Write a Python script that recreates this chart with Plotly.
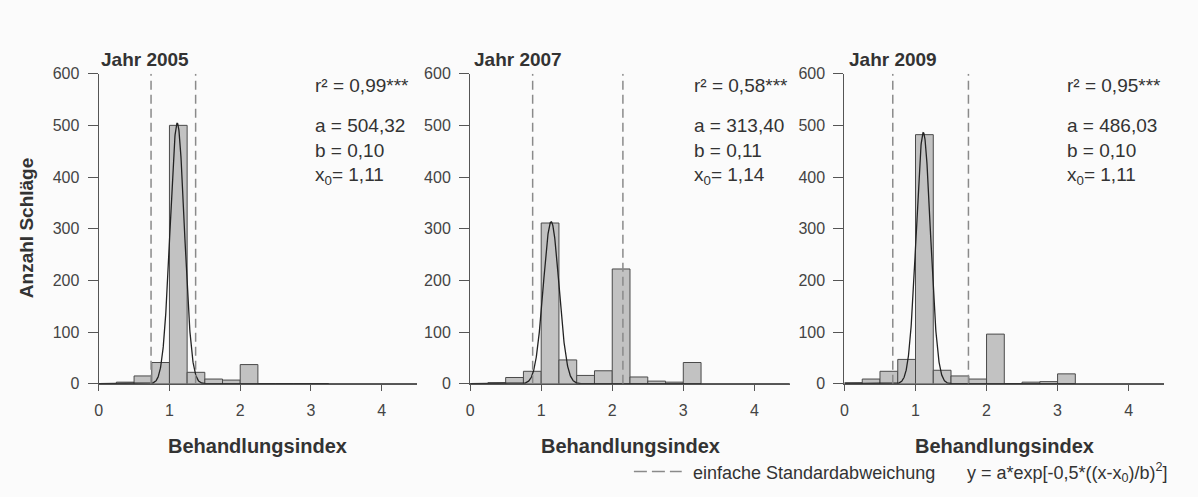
import numpy as np
import plotly.graph_objects as go

# Histogram bins (left edges, width 0.25) of the treatment index
bin_left = [0.0, 0.25, 0.5, 0.75, 1.0, 1.25, 1.5, 1.75, 2.0, 2.25, 2.5, 2.75, 3.0]
bin_width = 0.25

years = ["Jahr 2005", "Jahr 2007", "Jahr 2009"]
counts_2005 = [0, 3, 15, 41, 500, 22, 9, 7, 37, 0, 0, 0, 0]
counts_2007 = [0, 2, 12, 24, 311, 46, 16, 25, 222, 13, 5, 3, 41]
counts_2009 = [2, 9, 24, 47, 482, 26, 15, 9, 96, 0, 3, 4, 19]
counts = [counts_2005, counts_2007, counts_2009]

# Gaussian fit parameters y = a*exp(-0.5*((x-x0)/b)^2)
fit_a = [504.32, 313.40, 486.03]
fit_b = [0.10, 0.11, 0.10]
fit_x0 = [1.11, 1.14, 1.11]
fit_r2 = ["0,99", "0,58", "0,95"]

# one standard deviation limits (dashed lines)
sd_low = [0.74, 0.88, 0.68]
sd_high = [1.37, 2.15, 1.745]

x_ticks = [0, 1, 2, 3, 4]
y_ticks = [0, 100, 200, 300, 400, 500, 600]

W, H = 1198, 497
FONT = "Liberation Sans, Arial, Helvetica, sans-serif"
TXT = "#333333"
AX = "#555555"

x_domains = [(95, 414.5), (467.7, 788.5), (843.3, 1164.0)]
y_dom = [(497 - 389) / H, (497 - 68) / H]


def fmt(v):
    return f"{v:.2f}".replace(".", ",")


def py(pix):
    """paper y fraction for a pixel row measured from the top"""
    return (H - pix) / H


fig = go.Figure()
xgrid = np.linspace(0, 4.5, 1801)

annotations = []
shapes = []

for i in range(3):
    sfx = "" if i == 0 else str(i + 1)
    xa, ya = "x" + sfx, "y" + sfx
    centers = [l + bin_width / 2 for l in bin_left]
    fig.add_trace(go.Bar(
        x=centers, y=counts[i], width=[bin_width] * len(centers),
        marker=dict(color="#c2c2c2", line=dict(color="#4a4a4a", width=1)),
        xaxis=xa, yaxis=ya, showlegend=False, hoverinfo="x+y",
    ))
    yfit = fit_a[i] * np.exp(-0.5 * ((xgrid - fit_x0[i]) / fit_b[i]) ** 2)
    fig.add_trace(go.Scatter(
        x=xgrid, y=yfit, mode="lines", line=dict(color="#222222", width=1.3),
        xaxis=xa, yaxis=ya, showlegend=False, hoverinfo="skip",
    ))
    for xv in (sd_low[i], sd_high[i]):
        shapes.append(dict(type="line", xref=xa, yref=ya, x0=xv, x1=xv, y0=0, y1=600,
                           line=dict(color="#8a8a8a", width=1.5, dash="9px,5px")))

    d0, d1 = x_domains[i]
    axis_common = dict(showgrid=False, zeroline=False, showline=True, linecolor=AX,
                       linewidth=1.3, ticks="outside", tickcolor=AX, tickwidth=1.3,
                       tickfont=dict(family=FONT, size=16, color="#444444"))
    fig.update_layout(**{
        "xaxis" + sfx: dict(domain=[d0 / W, d1 / W], range=[0, 4.5], tickvals=x_ticks,
                            ticklen=6, ticklabelstandoff=6, anchor=ya, fixedrange=True,
                            **axis_common),
        "yaxis" + sfx: dict(domain=y_dom, range=[0, 600], tickvals=y_ticks,
                            ticklen=10, ticklabelstandoff=5, anchor=xa, fixedrange=True,
                            **axis_common),
    })

    # panel title above the plot area
    x_title = [0.0, 0.02, 0.03][i]
    annotations.append(dict(xref=xa, yref="paper", x=x_title, y=py(53), xanchor="left",
                            yanchor="middle", text="<b>" + years[i] + "</b>", showarrow=False,
                            font=dict(family=FONT, size=19, color=TXT)))
    # fit statistics
    x_stat = [3.03, 3.12, 3.11][i]
    stat_lines = [(578, "r² = " + fit_r2[i] + "***"),
                  (500, "a = " + fmt(fit_a[i])),
                  (451, "b = " + fmt(fit_b[i])),
                  (402, "x<sub>0</sub>= " + fmt(fit_x0[i]))]
    for yv, t in stat_lines:
        annotations.append(dict(xref=xa, yref=ya, x=x_stat, y=yv, xanchor="left", yanchor="middle",
                                text=t, showarrow=False,
                                font=dict(family=FONT, size=19, color=TXT)))
    # x axis title
    annotations.append(dict(xref=xa + " domain", yref="paper", x=0.5, y=py(453),
                            xanchor="center", yanchor="middle",
                            text="<b>Behandlungsindex</b>", showarrow=False,
                            font=dict(family=FONT, size=20, color=TXT)))

# y axis title
annotations.append(dict(xref="paper", yref="paper", x=22 / W, y=py(228),
                        xanchor="center", yanchor="middle", textangle=-90,
                        text="<b>Anzahl Schläge</b>", showarrow=False,
                        font=dict(family=FONT, size=19, color=TXT)))

# legend row
shapes.append(dict(type="line", xref="paper", yref="paper", x0=632 / W, x1=680 / W,
                   y0=py(480), y1=py(480),
                   line=dict(color="#8a8a8a", width=1.5, dash="13px,5px")))
annotations.append(dict(xref="paper", yref="paper", x=689 / W, y=py(481),
                        xanchor="left", yanchor="middle", text="einfache Standardabweichung",
                        showarrow=False, font=dict(family=FONT, size=18, color=TXT)))
annotations.append(dict(xref="paper", yref="paper", x=964 / W, y=py(481),
                        xanchor="left", yanchor="middle",
                        text="y = a*exp[-0,5*((x-x<sub>0</sub>)/b)<sup>2</sup>]",
                        showarrow=False, font=dict(family=FONT, size=18, color=TXT)))

fig.update_layout(
    width=W, height=H, margin=dict(l=0, r=0, t=0, b=0),
    paper_bgcolor="#fbfbfb", plot_bgcolor="rgba(0,0,0,0)",
    annotations=annotations, shapes=shapes, barmode="overlay",
    font=dict(family=FONT, color=TXT),
)

# page without body margin or scrollbars so the figure fills the window exactly
page_css = ("document.documentElement.style.margin='0';"
            "document.body.style.margin='0';"
            "document.body.style.overflow='hidden';")
fig.write_html("out.html", config={"displayModeBar": False}, post_script=page_css)
